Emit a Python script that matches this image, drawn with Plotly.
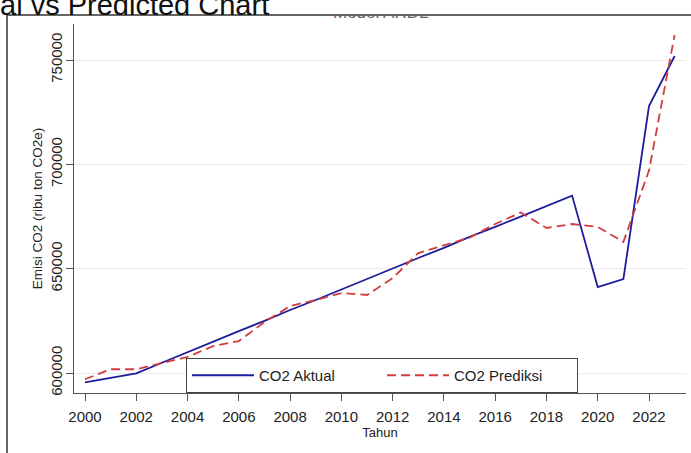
import plotly.graph_objects as go

years = list(range(2000, 2024))
co2_aktual = [595500, 597800, 599800, 604900, 610000, 615200, 620100, 625000,
              630200, 635000, 640100, 645000, 650200, 655100, 660000, 665200,
              670000, 675100, 680000, 685000, 641200, 645000, 727900, 751900]
co2_prediksi = [597000, 601800, 601800, 604800, 607700, 612900, 615300, 624400,
                632100, 635000, 638300, 637400, 645500, 657500, 661300, 664900,
                671400, 676900, 669500, 671400, 670000, 662800, 697000, 762000]
y_ticks = [600000, 650000, 700000, 750000]
x_ticks = list(range(2000, 2023, 2))

FONT = "Arial, Liberation Sans, sans-serif"
W, H = 691, 453
ML, MR, MT, MB = 74, 5, 24, 60
PW, PH = W - ML - MR, H - MT - MB


def px_x(p):
    return (p - ML) / PW


def px_y(p):
    return (H - MB - p) / PH


fig = go.Figure()
fig.add_trace(go.Scatter(x=years, y=co2_aktual, mode="lines", name="CO2 Aktual",
                         line=dict(color="#1c1c9c", width=1.8)))
fig.add_trace(go.Scatter(x=years, y=co2_prediksi, mode="lines", name="CO2 Prediksi",
                         line=dict(color="#d23c3c", width=1.8, dash="9px,5px")))

fig.update_layout(
    width=W, height=H, autosize=False,
    margin=dict(l=ML, r=MR, t=MT, b=MB),
    paper_bgcolor="white", plot_bgcolor="white",
    font=dict(family=FONT, color="#222"),
    showlegend=True,
    legend=dict(orientation="h", x=px_x(186), y=px_y(358), xanchor="left", yanchor="top",
                bgcolor="white", bordercolor="#444", borderwidth=1,
                font=dict(size=15, family=FONT, color="#222"),
                entrywidth=118, itemwidth=62, tracegroupgap=0),
    xaxis=dict(range=[1999.571, 2023.443], tickvals=x_ticks,
               ticks="outside", ticklen=7, tickcolor="#555", tickwidth=1,
               showline=True, linecolor="#555", linewidth=1,
               showgrid=False, zeroline=False,
               tickfont=dict(size=15, family=FONT, color="#222"),
               ticklabelstandoff=3,
               title=dict(text="Tahun", font=dict(size=13, family=FONT, color="#222"), standoff=2)),
    yaxis=dict(range=[590416, 767252], tickvals=y_ticks,
               ticktext=[str(v) for v in y_ticks], tickangle=-90,
               ticks="outside", ticklen=7, tickcolor="#555", tickwidth=1,
               showline=True, linecolor="#555", linewidth=1,
               showgrid=True, gridcolor="#ebebeb", gridwidth=1, zeroline=False,
               tickfont=dict(size=15, family=FONT, color="#222"),
               ticklabelstandoff=-2,
               title=dict(text="Emisi CO2 (ribu ton CO2e)",
                          font=dict(size=13.5, family=FONT, color="#222"), standoff=2)),
)

# outer frame of the original graph (partly cropped)
fig.add_shape(type="rect", xref="paper", yref="paper",
              x0=px_x(7), x1=px_x(720), y0=px_y(480), y1=px_y(15),
              line=dict(color="#333", width=1.5), fillcolor="rgba(0,0,0,0)", layer="below")

# cropped main title
fig.add_annotation(text="Actual vs Predicted Chart", xref="paper", yref="paper",
                   x=px_x(-60), y=px_y(5), xanchor="left", yanchor="middle",
                   showarrow=False, font=dict(size=29, family=FONT, color="#111"))
# subtitle mostly hidden behind the frame
fig.add_annotation(text="Model ARDL", xref="paper", yref="paper",
                   x=px_x(380), y=px_y(13), xanchor="center", yanchor="middle",
                   showarrow=False, font=dict(size=17, family=FONT, color="#666"))
fig.add_annotation(text=" ", xref="paper", yref="paper",
                   x=px_x(380), y=px_y(14), xanchor="center", yanchor="bottom",
                   width=140, height=16, bgcolor="white", borderpad=0, borderwidth=0,
                   showarrow=False, font=dict(size=10, family=FONT, color="white"))

fig.write_html("out.html")
